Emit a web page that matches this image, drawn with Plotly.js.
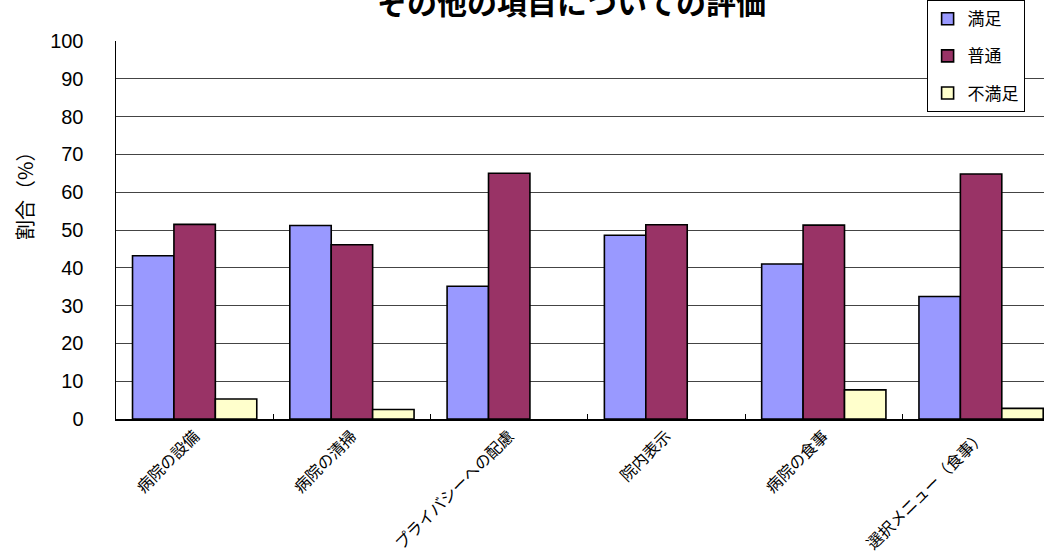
<!DOCTYPE html>
<html>
<head>
<meta charset="utf-8">
<script src="https://cdn.plot.ly/plotly-3.0.1.min.js"></script>
<style>html,body{margin:0;padding:0;background:#fff;}#chart{width:1044px;height:560px;}</style>
</head>
<body>
<div id="chart"></div>
<script>
const categories = ["病院の設備", "病院の清掃", "プライバシーへの配慮", "院内表示", "病院の食事", "選択メニュー（食事）"];
const seriesNames = ["満足", "普通", "不満足"];
const satisfied = [43.2, 51.2, 35.1, 48.6, 41.0, 32.4];
const normal = [51.5, 46.1, 65.0, 51.4, 51.3, 64.8];
const dissatisfied = [5.3, 2.5, null, null, 7.7, 2.8];
const yTicks = [0, 10, 20, 30, 40, 50, 60, 70, 80, 90, 100];
const colors = ["#9999FF", "#993366", "#FFFFCC"];

const jp = '"Noto Sans CJK JP", "Noto Sans", sans-serif';
const values = [satisfied, normal, dissatisfied];
const traces = values.map((v, i) => ({
  type: 'bar',
  name: seriesNames[i],
  x: categories,
  y: v,
  legendgroup: 'g' + i,
  marker: {color: colors[i], line: {color: '#000', width: 1.6}},
  hoverinfo: 'x+y'
}));

const layout = {
  width: 1044, height: 560,
  margin: {l: 116, r: 0, t: 39, b: 140.5, pad: 0},
  paper_bgcolor: '#fff', plot_bgcolor: '#fff',
  barmode: 'group', bargap: 0.21, bargroupgap: 0,
  xaxis: {
    type: 'category', range: [-0.5, 5.4],
    showline: true, linecolor: '#000', linewidth: 1.5,
    ticks: 'inside', ticklen: 5, tickcolor: '#000', tickson: 'boundaries',
    tickangle: -45, tickfont: {family: jp, size: 16, color: '#000'},
    showgrid: false, zeroline: false, fixedrange: true
  },
  yaxis: {
    range: [0, 100], tickvals: yTicks, ticktext: yTicks.map(String),
    showline: true, linecolor: '#000', linewidth: 1.5,
    showgrid: true, gridcolor: '#444', gridwidth: 1,
    ticks: '', ticklabelstandoff: 27,
    tickfont: {family: '"Liberation Sans", Arial, sans-serif', size: 20, color: '#000'},
    zeroline: false, fixedrange: true
  },
  annotations: [{
    text: 'その他の項目についての評価', showarrow: false,
    xref: 'paper', yref: 'paper', x: (571 - 116) / 928, y: 1.106,
    xanchor: 'center', yanchor: 'middle',
    font: {family: jp, size: 30, color: '#000', weight: 'bold'}
  }, {
    text: '割合（%）', textangle: -90, showarrow: false,
    xref: 'paper', yref: 'paper', x: (24 - 116) / 928, y: (419.5 - 190) / 380.5,
    xanchor: 'center', yanchor: 'middle',
    font: {family: jp, size: 20, color: '#000'}
  }],
  showlegend: true,
  legend: {
    x: 0.8735, xanchor: 'left', y: 1.108, yanchor: 'top',
    bgcolor: '#fff', bordercolor: '#000', borderwidth: 1,
    font: {family: jp, size: 17, color: '#000'},
    traceorder: 'grouped', tracegroupgap: 12,
    itemclick: false, itemdoubleclick: false
  }
};

Plotly.newPlot('chart', traces, layout, {displayModeBar: false, staticPlot: true});
</script>
</body>
</html>
